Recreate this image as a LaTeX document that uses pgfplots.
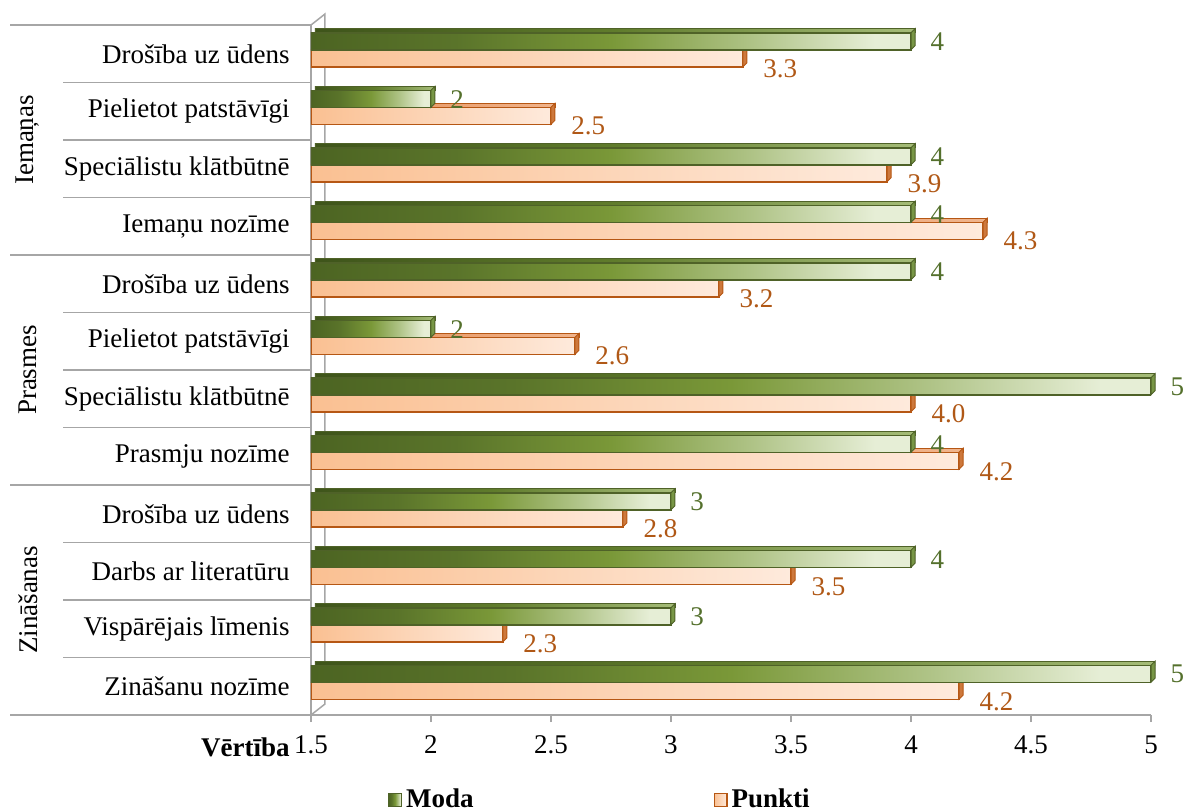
\documentclass[border=0pt]{standalone}
\usepackage{fontspec}
\setmainfont{Liberation Serif}
\usepackage{pgfplots}
\usepackage{pgfplotstable}
\pgfplotsset{compat=1.18}

\definecolor{mA}{RGB}{76,100,34}
\definecolor{mA2}{RGB}{90,116,42}
\definecolor{mB}{RGB}{122,152,56}
\definecolor{mB2}{RGB}{176,196,136}
\definecolor{mC}{RGB}{230,238,214}
\definecolor{mTA}{RGB}{62,84,26}
\definecolor{mTB}{RGB}{96,124,44}
\definecolor{mTC}{RGB}{165,188,120}
\definecolor{mCap}{RGB}{120,150,70}
\definecolor{mLine}{RGB}{79,98,40}
\definecolor{mLab}{RGB}{84,112,44}
\definecolor{oA}{RGB}{250,192,146}
\definecolor{oC}{RGB}{254,234,220}
\definecolor{oTA}{RGB}{228,140,84}
\definecolor{oTC}{RGB}{240,180,140}
\definecolor{oCap}{RGB}{205,120,60}
\definecolor{oLine}{RGB}{182,87,20}
\definecolor{oLab}{RGB}{176,88,22}
\definecolor{grid}{RGB}{166,166,166}

\pgfdeclarehorizontalshading{modaG}{100bp}{color(0bp)=(mA); color(25bp)=(mA); color(37bp)=(mA2); color(50bp)=(mB); color(62bp)=(mB2); color(72bp)=(mC); color(100bp)=(mC)}
\pgfdeclarehorizontalshading{modaT}{100bp}{color(0bp)=(mTA); color(25bp)=(mTA); color(50bp)=(mTB); color(75bp)=(mTC); color(100bp)=(mTC)}
\pgfdeclarehorizontalshading{puntG}{100bp}{color(0bp)=(oA); color(25bp)=(oA); color(75bp)=(oC); color(100bp)=(oC)}
\pgfdeclarehorizontalshading{puntT}{100bp}{color(0bp)=(oTA); color(25bp)=(oTA); color(75bp)=(oTC); color(100bp)=(oTC)}

% end caps of the 3d bars, relative to the category centre
\pgfdeclareplotmark{capM}{%
  \pgfpathmoveto{\pgfpoint{0pt}{2pt}}\pgfpathlineto{\pgfpoint{0pt}{10.5pt}}%
  \pgfpathlineto{\pgfpoint{2pt}{12.5pt}}\pgfpathlineto{\pgfpoint{2pt}{4pt}}%
  \pgfpathclose\pgfusepathqfillstroke}
\pgfdeclareplotmark{capO}{%
  \pgfpathmoveto{\pgfpoint{0pt}{-6.5pt}}\pgfpathlineto{\pgfpoint{0pt}{2pt}}%
  \pgfpathlineto{\pgfpoint{2pt}{4pt}}\pgfpathlineto{\pgfpoint{2pt}{-4.5pt}}%
  \pgfpathclose\pgfusepathqfillstroke}

\pgfplotstableread{
y moda punkti
11 4 3.3
10 2 2.5
9 4 3.9
8 4 4.3
7 4 3.2
6 2 2.6
5 5 4.0
4 4 4.2
3 3 2.8
2 4 3.5
1 3 2.3
0 5 4.2
}\data

\newcommand\fnt{\fontsize{13.5}{16}\selectfont}

\begin{document}
\begin{tikzpicture}
\path[use as bounding box] (0,0) rectangle (592.5pt,405.5pt);
\begin{axis}[
  at={(155.5pt,48pt)}, anchor=south west,
  scale only axis, width=420pt, height=345pt,
  xmin=0, xmax=3.5, ymin=-0.5, ymax=11.5,
  clip mode=individual,
  axis x line*=bottom, axis y line*=left,
  axis line style={draw=grid, line width=0.75pt, -},
  xtick={0,0.5,1,1.5,2,2.5,3,3.5},
  xticklabels={1.5,2,2.5,3,3.5,4,4.5,5},
  ytick={0,...,11},
  yticklabels={Zināšanu nozīme,Vispārējais līmenis,Darbs ar literatūru,Drošība uz ūdens,
    Prasmju nozīme,Speciālistu klātbūtnē,Pielietot patstāvīgi,Drošība uz ūdens,
    Iemaņu nozīme,Speciālistu klātbūtnē,Pielietot patstāvīgi,Drošība uz ūdens},
  tick align=outside,
  major tick length=3.5pt,
  x tick style={draw=grid, line width=0.75pt},
  y tick style={draw=none},
  tick label style={font=\fnt},
  yticklabel style={inner sep=0pt, xshift=-7pt},
  xticklabel style={yshift=-3.5pt},
  /pgf/number format/assume math mode=true,
  legend columns=2,
  legend style={draw=none, at={(0.345,-0.123)}, anchor=center, font=\bfseries\fnt,
    /tikz/every even column/.append style={column sep=118pt}},
  legend image code/.code={\draw[#1] (0pt,-3.2pt) rectangle (6.4pt,3.2pt);},
]
\addlegendimage{shading=modaG, draw=mLine, line width=0.6pt}
\addlegendentry{Moda}
\addlegendimage{shading=puntG, draw=oLine, line width=0.6pt}
\addlegendentry{Punkti}

% 3d wall and category separators
\draw[grid, line width=0.75pt] (axis cs:0,11.5) -- ++(7pt,5.5pt)
  -- ([xshift=7pt,yshift=5.5pt]axis cs:0,-0.5) -- (axis cs:0,-0.5);
\pgfplotsinvokeforeach{11.5,7.5,3.5,-0.5}{
  \draw[grid, line width=0.75pt] (axis cs:0,#1) -- ++(-150.5pt,0pt);}
\pgfplotsinvokeforeach{10.5,9.5,8.5,6.5,5.5,4.5,2.5,1.5,0.5}{
  \draw[grid, line width=0.75pt] (axis cs:0,#1) -- ++(-124pt,0pt);}

% Punkti: one plot per category so that each bar gets its own gradient
\pgfplotsinvokeforeach{0,...,11}{
  \addplot[forget plot, xbar, bar width=2pt, bar shift=3pt, xshift=2pt,
    shading=puntT, draw=oLine, line width=0.4pt, restrict y to domain=#1:#1]
    table[x expr=\thisrow{punkti}-1.5, y=y]{\data};
  \addplot[forget plot, xbar, bar width=8.5pt, bar shift=-2.25pt,
    shading=puntG, draw=oLine, line width=0.75pt, restrict y to domain=#1:#1]
    table[x expr=\thisrow{punkti}-1.5, y=y]{\data};
}
\addplot[forget plot, only marks, mark=capO, mark options={fill=oCap, draw=oLine, line width=0.5pt},
  point meta=explicit, nodes near coords={\pgfmathprintnumber[fixed,fixed zerofill,precision=1,assume math mode=true]{\pgfplotspointmeta}},
  nodes near coords align=horizontal,
  every node near coord/.append style={anchor=west, xshift=10pt, yshift=-7.5pt, inner sep=0pt, text=oLab, font=\fnt}]
  table[x expr=\thisrow{punkti}-1.5, y=y, meta=punkti]{\data};

% Moda
\pgfplotsinvokeforeach{0,...,11}{
  \addplot[forget plot, xbar, bar width=2pt, bar shift=11.5pt, xshift=2pt,
    shading=modaT, draw=mLine, line width=0.4pt, restrict y to domain=#1:#1]
    table[x expr=\thisrow{moda}-1.5, y=y]{\data};
  \addplot[forget plot, xbar, bar width=8.5pt, bar shift=6.25pt,
    shading=modaG, draw=mLine, line width=0.75pt, restrict y to domain=#1:#1]
    table[x expr=\thisrow{moda}-1.5, y=y]{\data};
}
\addplot[forget plot, only marks, mark=capM, mark options={fill=mCap, draw=mLine, line width=0.5pt},
  point meta=explicit, nodes near coords={\pgfmathprintnumber[assume math mode=true]{\pgfplotspointmeta}},
  nodes near coords align=horizontal,
  every node near coord/.append style={anchor=west, xshift=9.5pt, yshift=6pt, inner sep=0pt, text=mLab, font=\fnt}]
  table[x expr=\thisrow{moda}-1.5, y=y, meta=moda]{\data};

\node[anchor=base east, font=\bfseries\fnt, inner sep=0pt] at ([xshift=-10.5pt,yshift=-20.5pt]axis cs:0,-0.5) {Vērtība};
\node[rotate=90, font=\fnt, inner sep=0pt] at ([xshift=-141.5pt]axis cs:0,9.5) {Iemaņas};
\node[rotate=90, font=\fnt, inner sep=0pt] at ([xshift=-141.5pt]axis cs:0,5.5) {Prasmes};
\node[rotate=90, font=\fnt, inner sep=0pt] at ([xshift=-141.5pt]axis cs:0,1.5) {Zināšanas};
\end{axis}
\end{tikzpicture}
\end{document}
